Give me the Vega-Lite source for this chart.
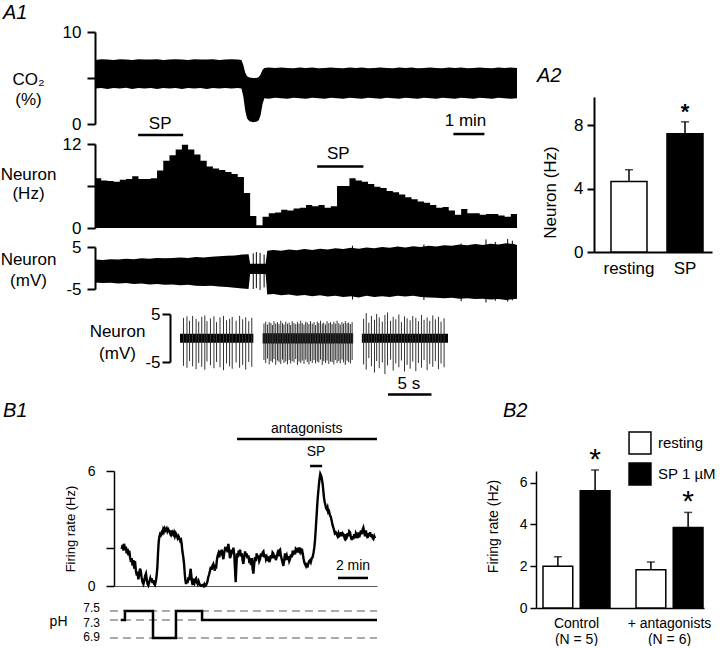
{
"$schema":"https://vega.github.io/schema/vega-lite/v6.json",
"background":"white",
"padding":{"left":0,"top":3,"right":0,"bottom":0},
"columns":2,
"bounds":"flush",
"align":"each",
"spacing":{"row":0,"column":19},
"resolve":{"scale":{"color":"independent"},"legend":{"color":"independent"}},
"config":{
 "font":"Liberation Sans",
 "view":{"stroke":null},
 "axis":{"grid":false,"domainColor":"black","tickColor":"black","labelColor":"black","titleColor":"black","titleFontWeight":"normal","labelFont":"Liberation Sans","titleFont":"Liberation Sans","labelOverlap":false,"labelFlush":false},
 "title":{"fontSize":20,"fontStyle":"italic","fontWeight":"normal","anchor":"start","frame":"group","color":"black","font":"Liberation Sans"},
 "text":{"color":"black","font":"Liberation Sans"}
},
"concat":[
{
 "width":422,"height":112,
 "title":{"text":"A1","dx":-92,"offset":0},
 "layer":[
  {"data":{"values":[
{"t":0.0,"v":3.85,"v2":6.95},{"t":0.2,"v":3.9,"v2":7.05},{"t":0.4,"v":3.8,"v2":7.0},{"t":0.6,"v":3.9,"v2":6.95},{"t":0.8,"v":3.85,"v2":7.05},{"t":1.0,"v":3.95,"v2":7.0},{"t":1.2,"v":3.8,"v2":6.95},{"t":1.4,"v":3.9,"v2":7.05},{"t":1.6,"v":3.85,"v2":7.0},{"t":1.8,"v":3.9,"v2":7.0},{"t":2.0,"v":3.8,"v2":7.05},{"t":2.2,"v":3.9,"v2":6.95},{"t":2.4,"v":3.85,"v2":7.0},{"t":2.6,"v":3.9,"v2":7.05},{"t":2.8,"v":3.8,"v2":7.0},{"t":3.0,"v":3.9,"v2":6.95},{"t":3.2,"v":3.85,"v2":7.05},{"t":3.4,"v":3.9,"v2":7.0},{"t":3.6,"v":3.8,"v2":7.0},{"t":3.8,"v":3.9,"v2":7.05},{"t":4.0,"v":3.85,"v2":6.95},{"t":4.2,"v":3.9,"v2":7.0},{"t":4.4,"v":3.85,"v2":7.05},{"t":4.6,"v":3.9,"v2":7.0},{"t":4.72,"v":3.85,"v2":6.95},
{"t":4.78,"v":3.0,"v2":6.4},{"t":4.84,"v":1.5,"v2":5.6},{"t":4.9,"v":0.6,"v2":5.2},{"t":4.98,"v":0.3,"v2":5.05},{"t":5.1,"v":0.2,"v2":5.0},{"t":5.2,"v":0.25,"v2":5.0},{"t":5.28,"v":0.4,"v2":5.1},{"t":5.34,"v":1.0,"v2":5.4},{"t":5.4,"v":2.2,"v2":5.9},{"t":5.46,"v":2.8,"v2":6.1},
{"t":5.6,"v":2.75,"v2":6.15},{"t":5.8,"v":2.85,"v2":6.1},{"t":6.0,"v":2.8,"v2":6.15},{"t":6.2,"v":2.75,"v2":6.1},{"t":6.4,"v":2.85,"v2":6.05},{"t":6.6,"v":2.8,"v2":6.15},{"t":6.8,"v":2.75,"v2":6.1},{"t":7.0,"v":2.85,"v2":6.15},{"t":7.2,"v":2.8,"v2":6.05},{"t":7.4,"v":2.75,"v2":6.1},{"t":7.6,"v":2.85,"v2":6.15},{"t":7.8,"v":2.8,"v2":6.1},{"t":8.0,"v":2.75,"v2":6.05},{"t":8.2,"v":2.85,"v2":6.15},{"t":8.4,"v":2.8,"v2":6.1},{"t":8.6,"v":2.75,"v2":6.15},{"t":8.8,"v":2.85,"v2":6.05},{"t":9.0,"v":2.8,"v2":6.1},{"t":9.2,"v":2.75,"v2":6.15},{"t":9.4,"v":2.85,"v2":6.1},{"t":9.6,"v":2.8,"v2":6.05},{"t":9.8,"v":2.75,"v2":6.15},{"t":10.0,"v":2.85,"v2":6.1},{"t":10.2,"v":2.8,"v2":6.15},{"t":10.4,"v":2.75,"v2":6.05},{"t":10.6,"v":2.85,"v2":6.1},{"t":10.8,"v":2.8,"v2":6.15},{"t":11.0,"v":2.75,"v2":6.1},{"t":11.2,"v":2.85,"v2":6.05},{"t":11.4,"v":2.8,"v2":6.15},{"t":11.6,"v":2.75,"v2":6.1},{"t":11.8,"v":2.85,"v2":6.15},{"t":12.0,"v":2.8,"v2":6.05},{"t":12.2,"v":2.75,"v2":6.1},{"t":12.4,"v":2.85,"v2":6.15},{"t":12.6,"v":2.8,"v2":6.1},{"t":12.8,"v":2.75,"v2":6.05},{"t":13.0,"v":2.85,"v2":6.15},{"t":13.2,"v":2.8,"v2":6.1},{"t":13.4,"v":2.75,"v2":6.15},{"t":13.6,"v":2.8,"v2":6.1}
  ]},
   "mark":{"type":"area","color":"black"},
   "encoding":{
    "x":{"field":"t","type":"quantitative","scale":{"domain":[0,13.6],"range":[0,422],"nice":false,"zero":false},"axis":null},
    "y":{"field":"v","type":"quantitative","scale":{"domain":[0,10],"range":[92,0],"nice":false,"zero":false},
     "axis":{"values":[0,5,10],"labelExpr":"datum.value == 5 ? '' : datum.label","labelFontSize":17,"labelPadding":6,"tickSize":8,"tickWidth":2,"domainWidth":2,
      "title":["CO₂","(%)"],"titleFontSize":17,"titleAngle":0,"titleAlign":"center","titleBaseline":"alphabetic","titleX":-67,"titleY":52,"titleLineHeight":20}},
    "y2":{"field":"v2"}}},
  {"data":{"values":[{"t":11.55,"t2":12.55,"v":-1.09}]},
   "mark":{"type":"rule","strokeWidth":2.5,"color":"black"},
   "encoding":{"x":{"field":"t","type":"quantitative","axis":null},"x2":{"field":"t2"},"y":{"field":"v","type":"quantitative"}}},
  {"data":{"values":[{"t":11.94,"v":0.33,"label":"1 min"}]},
   "mark":{"type":"text","fontSize":17,"baseline":"middle"},
   "encoding":{"x":{"field":"t","type":"quantitative","axis":null},"y":{"field":"v","type":"quantitative"},"text":{"field":"label"}}}
 ]
},
{
 "width":176,"height":112,
 "title":{"text":"A2","dx":1,"offset":8,"dy":62},
 "data":{"values":[
  {"cond":"resting","v":4.45,"hi":5.2,"star":""},
  {"cond":"SP","v":7.47,"hi":8.23,"star":"*"}
 ]},
 "layer":[
  {"mark":{"type":"bar","stroke":"black","strokeWidth":1.5},
   "encoding":{
    "x":{"field":"cond","type":"nominal","sort":null,"scale":{"range":[58,176],"paddingInner":0.357,"paddingOuter":0.232,"align":0.654},
     "axis":{"offset":108,"ticks":false,"labelAngle":0,"labelFontSize":17,"labelPadding":8,"title":null,"domainWidth":2}},
    "y":{"field":"v","type":"quantitative","scale":{"domain":[0,9.8],"range":[220,65],"nice":false},
     "axis":{"values":[0,2,4,6,8],"labelExpr":"datum.value % 4 == 0 ? datum.label : ''","offset":-58,"tickSize":7,"tickWidth":2,"domainWidth":2,"labelFontSize":17,"labelPadding":4,
      "title":"Neuron (Hz)","titleFontSize":17,"titleAngle":-90,"titleX":-44,"titleY":160,"titleAlign":"center","titleBaseline":"middle"}},
    "color":{"field":"cond","type":"nominal","sort":null,"scale":{"domain":["resting","SP"],"range":["white","black"]},"legend":null}}},
  {"mark":{"type":"rule","color":"black","strokeWidth":1.5},
   "encoding":{"x":{"field":"cond","type":"nominal","sort":null},"y":{"field":"v","type":"quantitative"},"y2":{"field":"hi"}}},
  {"mark":{"type":"tick","orient":"horizontal","color":"black","size":8,"thickness":1.5},
   "encoding":{"x":{"field":"cond","type":"nominal","sort":null},"y":{"field":"hi","type":"quantitative"}}},
  {"mark":{"type":"text","fontSize":22,"fontWeight":"bold","baseline":"alphabetic","dy":-3},
   "encoding":{"x":{"field":"cond","type":"nominal","sort":null},"y":{"field":"hi","type":"quantitative"},"text":{"field":"star"}}}
 ]
},
{
 "width":422,"height":103,
 "layer":[
  {"data":{"values":[
{"t":0.0,"v":7.1},{"t":0.2,"v":6.8},{"t":0.4,"v":6.7},{"t":0.6,"v":6.6},{"t":0.8,"v":6.9},{"t":1.0,"v":7.0},{"t":1.2,"v":7.4},{"t":1.4,"v":7.0},{"t":1.6,"v":7.0},{"t":1.8,"v":7.1},{"t":2.0,"v":8.2},{"t":2.2,"v":9.6},{"t":2.4,"v":10.4},{"t":2.6,"v":11.2},{"t":2.8,"v":11.9},{"t":3.0,"v":11.2},{"t":3.2,"v":10.5},{"t":3.4,"v":9.6},{"t":3.6,"v":8.8},{"t":3.8,"v":8.5},{"t":4.0,"v":8.3},{"t":4.2,"v":8.0},{"t":4.4,"v":7.7},{"t":4.6,"v":7.3},{"t":4.8,"v":5.0},{"t":5.0,"v":1.7},{"t":5.2,"v":0.4},{"t":5.4,"v":1.6},{"t":5.6,"v":2.1},{"t":5.8,"v":2.2},{"t":6.0,"v":2.6},{"t":6.2,"v":2.5},{"t":6.4,"v":2.8},{"t":6.6,"v":2.9},{"t":6.8,"v":3.3},{"t":7.0,"v":3.1},{"t":7.2,"v":3.3},{"t":7.4,"v":2.9},{"t":7.6,"v":3.1},{"t":7.8,"v":6.0},{"t":8.0,"v":6.0},{"t":8.2,"v":7.1},{"t":8.4,"v":6.8},{"t":8.6,"v":6.6},{"t":8.8,"v":6.3},{"t":9.0,"v":5.9},{"t":9.2,"v":5.7},{"t":9.4,"v":5.3},{"t":9.6,"v":5.1},{"t":9.8,"v":4.8},{"t":10.0,"v":4.4},{"t":10.2,"v":4.1},{"t":10.4,"v":3.8},{"t":10.6,"v":3.6},{"t":10.8,"v":3.3},{"t":11.0,"v":2.9},{"t":11.2,"v":3.0},{"t":11.4,"v":2.5},{"t":11.6,"v":1.9},{"t":11.8,"v":2.7},{"t":12.0,"v":2.1},{"t":12.2,"v":2.1},{"t":12.4,"v":1.9},{"t":12.6,"v":2.0},{"t":12.8,"v":2.0},{"t":13.0,"v":1.8},{"t":13.2,"v":1.6},{"t":13.4,"v":2.0},{"t":13.6,"v":2.0}
  ]},
   "mark":{"type":"area","color":"black","interpolate":"step-after"},
   "encoding":{
    "x":{"field":"t","type":"quantitative","scale":{"domain":[0,13.6],"range":[0,422],"nice":false,"zero":false},"axis":null},
    "y":{"field":"v","type":"quantitative","scale":{"domain":[0,12],"range":[84,0],"nice":false},
     "axis":{"values":[0,6,12],"labelExpr":"datum.value == 6 ? '' : datum.label","labelFontSize":17,"labelPadding":6,"tickSize":8,"tickWidth":2,"domainWidth":2,
      "title":["Neuron","(Hz)"],"titleFontSize":17,"titleAngle":0,"titleAlign":"center","titleBaseline":"alphabetic","titleX":-67,"titleY":35,"titleLineHeight":19}}}},
  {"data":{"values":[{"t":1.39,"t2":2.84,"v":13.3},{"t":7.16,"t2":8.65,"v":8.8}]},
   "mark":{"type":"rule","strokeWidth":2.5,"color":"black"},
   "encoding":{"x":{"field":"t","type":"quantitative","axis":null},"x2":{"field":"t2"},"y":{"field":"v","type":"quantitative"}}},
  {"data":{"values":[{"t":2.1,"v":14.9,"label":"SP"},{"t":7.84,"v":10.6,"label":"SP"}]},
   "mark":{"type":"text","fontSize":17,"baseline":"middle"},
   "encoding":{"x":{"field":"t","type":"quantitative","axis":null},"y":{"field":"v","type":"quantitative"},"text":{"field":"label"}}}
 ]
},
{"width":1,"height":1,"data":{"values":[]},"mark":"point","encoding":{}},
{
 "width":422,"height":67,
 "layer":[
  {"data":{"values":[
{"t":0.0,"v":-3.45,"v2":2.0},{"t":0.25,"v":-3.6,"v2":1.9},{"t":0.5,"v":-3.5,"v2":2.1},{"t":0.75,"v":-3.7,"v2":2.0},{"t":1.0,"v":-3.6,"v2":2.2},{"t":1.25,"v":-3.8,"v2":2.1},{"t":1.5,"v":-3.7,"v2":2.3},{"t":1.75,"v":-3.9,"v2":2.2},{"t":2.0,"v":-3.8,"v2":2.4},{"t":2.25,"v":-4.0,"v2":2.3},{"t":2.5,"v":-3.9,"v2":2.4},{"t":2.75,"v":-4.1,"v2":2.5},{"t":3.0,"v":-4.0,"v2":2.4},{"t":3.25,"v":-4.2,"v2":2.6},{"t":3.5,"v":-4.3,"v2":2.5},{"t":3.75,"v":-4.2,"v2":2.7},{"t":4.0,"v":-4.4,"v2":2.8},{"t":4.25,"v":-4.5,"v2":2.9},{"t":4.5,"v":-4.7,"v2":3.0},{"t":4.75,"v":-4.9,"v2":3.2},{"t":4.95,"v":-5.0,"v2":3.3},
{"t":5.0,"v":-1.4,"v2":1.0},{"t":5.5,"v":-1.4,"v2":1.0},
{"t":5.55,"v":-6.3,"v2":4.1},{"t":5.75,"v":-6.2,"v2":4.3},{"t":6.0,"v":-6.5,"v2":4.1},{"t":6.25,"v":-6.3,"v2":4.4},{"t":6.5,"v":-6.6,"v2":4.2},{"t":6.75,"v":-6.4,"v2":4.5},{"t":7.0,"v":-6.7,"v2":4.3},{"t":7.25,"v":-6.5,"v2":4.6},{"t":7.5,"v":-6.8,"v2":4.4},{"t":7.75,"v":-6.6,"v2":4.7},{"t":8.0,"v":-6.9,"v2":4.5},{"t":8.25,"v":-6.7,"v2":4.8},{"t":8.5,"v":-7.0,"v2":4.6},{"t":8.75,"v":-6.6,"v2":4.9},{"t":9.0,"v":-6.9,"v2":4.7},{"t":9.25,"v":-6.7,"v2":5.0},{"t":9.5,"v":-6.9,"v2":4.8},{"t":9.75,"v":-6.6,"v2":5.1},{"t":10.0,"v":-6.8,"v2":4.9},{"t":10.25,"v":-6.6,"v2":5.2},{"t":10.5,"v":-6.9,"v2":5.0},{"t":10.75,"v":-7.0,"v2":5.3},{"t":11.0,"v":-7.1,"v2":5.1},{"t":11.25,"v":-7.2,"v2":5.4},{"t":11.5,"v":-7.1,"v2":5.3},{"t":11.75,"v":-7.3,"v2":5.6},{"t":12.0,"v":-7.2,"v2":5.4},{"t":12.25,"v":-7.4,"v2":5.7},{"t":12.5,"v":-7.3,"v2":5.5},{"t":12.75,"v":-7.5,"v2":5.8},{"t":13.0,"v":-7.4,"v2":5.6},{"t":13.25,"v":-7.6,"v2":5.9},{"t":13.5,"v":-7.4,"v2":5.7},{"t":13.6,"v":-7.3,"v2":5.5}
  ]},
   "mark":{"type":"area","color":"black"},
   "encoding":{
    "x":{"field":"t","type":"quantitative","scale":{"domain":[0,13.6],"range":[0,422],"nice":false,"zero":false},"axis":null},
    "y":{"field":"v","type":"quantitative","scale":{"domain":[-5,5],"range":[42,0],"nice":false,"zero":false},
     "axis":{"values":[-5,0,5],"labelExpr":"datum.value == 0 ? '' : (datum.value < 0 ? '-5' : '5')","labelFontSize":17,"labelPadding":6,"tickSize":8,"tickWidth":2,"domainWidth":2,
      "title":["Neuron","(mV)"],"titleFontSize":17,"titleAngle":0,"titleAlign":"center","titleBaseline":"alphabetic","titleX":-67,"titleY":17,"titleLineHeight":21}},
    "y2":{"field":"v2"}}},
  {"data":{"values":[{"t":5.1,"v":-5.0,"v2":3.5},{"t":5.2,"v":-4.8,"v2":3.8},{"t":5.32,"v":-5.2,"v2":3.6},{"t":5.45,"v":-4.6,"v2":3.2},{"t":8.3,"v":-7.5,"v2":5.3},{"t":10.6,"v":-7.6,"v2":5.6},{"t":11.8,"v":-7.9,"v2":5.8},{"t":12.6,"v":-8.2,"v2":6.8},{"t":12.9,"v":-7.8,"v2":6.2},{"t":13.3,"v":-8.0,"v2":6.9},{"t":13.45,"v":-7.7,"v2":6.5}]},
   "mark":{"type":"rule","color":"black","strokeWidth":1},
   "encoding":{"x":{"field":"t","type":"quantitative","axis":null},"y":{"field":"v","type":"quantitative"},"y2":{"field":"v2"}}}
 ]
},
{"width":1,"height":1,"data":{"values":[]},"mark":"point","encoding":{}},
{
 "width":353,"height":157,
 "layer":[
  {"data":{"values":[{"t":0,"t2":8.43,"v":-1.0,"v2":0.87},{"t":9.5,"t2":19.9,"v":-1.15,"v2":1.0},{"t":20.9,"t2":30.8,"v":-1.0,"v2":0.9}]},
   "mark":{"type":"rect","color":"black"},
   "encoding":{
    "x":{"field":"t","type":"quantitative","scale":{"domain":[0,30.8],"range":[85,353],"nice":false,"zero":false},"axis":null},
    "x2":{"field":"t2"},
    "y":{"field":"v","type":"quantitative","scale":{"domain":[-5,5],"range":[48,0],"nice":false,"zero":false},
     "axis":{"values":[-5,5],"labelExpr":"datum.value < 0 ? '-5' : '5'","offset":-75,"labelFontSize":17,"labelPadding":2,"tickSize":8,"tickWidth":2,"domainWidth":2,
      "title":["Neuron","(mV)"],"titleFontSize":17,"titleAngle":0,"titleAlign":"center","titleBaseline":"alphabetic","titleX":-53,"titleY":22,"titleLineHeight":22}},
    "y2":{"field":"v2"}}},
  {"data":{"values":[
{"t":0.4,"v":-5.8,"v2":4.2},{"t":0.8,"v":-6.2,"v2":4.5},{"t":1.1,"v":-4.8,"v2":3.6},{"t":1.45,"v":-5.9,"v2":4.6},{"t":1.85,"v":-6.5,"v2":4.0},{"t":2.15,"v":-5.2,"v2":3.4},{"t":2.5,"v":-6.0,"v2":4.4},{"t":2.85,"v":-6.6,"v2":4.7},{"t":3.1,"v":-4.9,"v2":3.5},{"t":3.5,"v":-5.7,"v2":4.1},{"t":3.9,"v":-6.3,"v2":4.5},{"t":4.2,"v":-5.0,"v2":3.3},{"t":4.6,"v":-6.1,"v2":4.3},{"t":5.0,"v":-6.7,"v2":4.6},{"t":5.35,"v":-5.3,"v2":3.7},{"t":5.7,"v":-5.9,"v2":4.0},{"t":6.0,"v":-6.4,"v2":4.4},{"t":6.45,"v":-5.1,"v2":3.6},{"t":6.85,"v":-6.2,"v2":4.6},{"t":7.2,"v":-5.6,"v2":3.9},{"t":7.55,"v":-6.6,"v2":4.3},{"t":7.9,"v":-5.0,"v2":3.5},{"t":8.25,"v":-6.0,"v2":4.2},
{"t":9.65,"v":-4.6,"v2":3.0},{"t":9.85,"v":-5.2,"v2":3.4},{"t":10.05,"v":-4.3,"v2":2.8},{"t":10.25,"v":-5.5,"v2":3.3},{"t":10.45,"v":-4.8,"v2":3.1},{"t":10.62,"v":-5.1,"v2":2.7},{"t":10.8,"v":-4.4,"v2":3.5},{"t":11.0,"v":-5.6,"v2":3.0},{"t":11.2,"v":-4.7,"v2":3.3},{"t":11.38,"v":-5.0,"v2":2.9},{"t":11.58,"v":-5.4,"v2":3.6},{"t":11.78,"v":-4.5,"v2":3.1},{"t":11.95,"v":-5.2,"v2":2.8},{"t":12.15,"v":-4.9,"v2":3.4},{"t":12.35,"v":-5.5,"v2":3.0},{"t":12.55,"v":-4.6,"v2":3.2},{"t":12.72,"v":-5.3,"v2":2.7},{"t":12.9,"v":-4.8,"v2":3.5},{"t":13.1,"v":-5.1,"v2":3.1},{"t":13.3,"v":-4.4,"v2":2.9},{"t":13.5,"v":-5.6,"v2":3.3},{"t":13.68,"v":-4.9,"v2":3.0},{"t":13.88,"v":-5.2,"v2":3.6},{"t":14.05,"v":-4.7,"v2":3.1},{"t":14.25,"v":-5.4,"v2":2.8},{"t":14.45,"v":-4.5,"v2":3.4},{"t":14.62,"v":-5.0,"v2":3.2},{"t":14.82,"v":-5.5,"v2":2.9},{"t":15.0,"v":-4.8,"v2":3.5},{"t":15.2,"v":-5.2,"v2":3.0},{"t":15.4,"v":-4.6,"v2":3.3},{"t":15.58,"v":-5.3,"v2":2.7},{"t":15.78,"v":-4.9,"v2":3.4},{"t":15.95,"v":-5.1,"v2":3.1},{"t":16.15,"v":-4.5,"v2":3.6},{"t":16.35,"v":-5.6,"v2":3.0},{"t":16.52,"v":-4.8,"v2":3.2},{"t":16.72,"v":-5.2,"v2":2.8},{"t":16.9,"v":-4.7,"v2":3.5},{"t":17.1,"v":-5.4,"v2":3.1},{"t":17.3,"v":-4.9,"v2":3.3},{"t":17.48,"v":-5.0,"v2":2.9},{"t":17.68,"v":-5.5,"v2":3.4},{"t":17.85,"v":-4.6,"v2":3.0},{"t":18.05,"v":-5.2,"v2":3.6},{"t":18.25,"v":-4.8,"v2":3.1},{"t":18.42,"v":-5.3,"v2":2.8},{"t":18.62,"v":-4.5,"v2":3.3},{"t":18.8,"v":-5.1,"v2":3.0},{"t":19.0,"v":-5.6,"v2":3.5},{"t":19.2,"v":-4.7,"v2":3.1},{"t":19.38,"v":-5.0,"v2":3.2},{"t":19.58,"v":-5.3,"v2":2.9},{"t":19.78,"v":-4.6,"v2":3.3},
{"t":21.1,"v":-5.5,"v2":4.0},{"t":21.4,"v":-6.6,"v2":5.2},{"t":21.7,"v":-4.2,"v2":3.2},{"t":22.0,"v":-5.9,"v2":4.6},{"t":22.35,"v":-7.2,"v2":3.8},{"t":22.6,"v":-4.8,"v2":5.0},{"t":22.9,"v":-6.3,"v2":4.3},{"t":23.25,"v":-5.1,"v2":3.4},{"t":23.55,"v":-7.5,"v2":4.8},{"t":23.85,"v":-5.7,"v2":5.3},{"t":24.2,"v":-4.5,"v2":3.6},{"t":24.5,"v":-6.8,"v2":4.4},{"t":24.8,"v":-5.3,"v2":3.9},{"t":25.15,"v":-6.1,"v2":4.9},{"t":25.45,"v":-4.7,"v2":3.3},{"t":25.8,"v":-7.0,"v2":4.5},{"t":26.1,"v":-5.6,"v2":4.1},{"t":26.45,"v":-6.4,"v2":3.7},{"t":26.75,"v":-4.9,"v2":4.6},{"t":27.1,"v":-6.9,"v2":4.2},{"t":27.4,"v":-5.2,"v2":3.5},{"t":27.75,"v":-6.2,"v2":4.8},{"t":28.05,"v":-4.6,"v2":3.8},{"t":28.4,"v":-6.7,"v2":4.3},{"t":28.7,"v":-5.4,"v2":3.6},{"t":29.05,"v":-6.0,"v2":4.7},{"t":29.35,"v":-4.8,"v2":3.9},{"t":29.7,"v":-6.5,"v2":4.4},{"t":30.0,"v":-5.3,"v2":3.4},{"t":30.35,"v":-6.1,"v2":4.1}
  ]},
   "mark":{"type":"rule","color":"#333","strokeWidth":1},
   "encoding":{"x":{"field":"t","type":"quantitative","axis":null},"y":{"field":"v","type":"quantitative"},"y2":{"field":"v2"}}},
  {"data":{"values":[{"t":23.9,"t2":28.9,"v":-11.76}]},
   "mark":{"type":"rule","color":"black","strokeWidth":2.5},
   "encoding":{"x":{"field":"t","type":"quantitative","axis":null},"x2":{"field":"t2"},"y":{"field":"v","type":"quantitative"}}},
  {"data":{"values":[{"t":26.3,"v":-9.5,"label":"5 s"}]},
   "mark":{"type":"text","fontSize":17,"baseline":"middle"},
   "encoding":{"x":{"field":"t","type":"quantitative","axis":null},"y":{"field":"v","type":"quantitative"},"text":{"field":"label"}}}
 ]
},
{"width":1,"height":1,"data":{"values":[]},"mark":"point","encoding":{}},
{
 "width":282,"height":140,
 "title":{"text":"B1","dx":-92,"offset":1},
 "layer":[
  {"data":{"values":[
{"t":0.51,"v":1.93},{"t":0.58,"v":2.15},{"t":0.63,"v":1.85},{"t":0.67,"v":2.2},{"t":0.74,"v":1.9},{"t":0.79,"v":2.05},{"t":0.84,"v":1.7},{"t":0.9,"v":1.95},{"t":0.96,"v":1.6},{"t":1.02,"v":1.85},{"t":1.07,"v":1.5},{"t":1.13,"v":1.25},{"t":1.18,"v":1.45},{"t":1.24,"v":1.06},{"t":1.3,"v":1.35},{"t":1.35,"v":0.9},{"t":1.4,"v":1.3},{"t":1.46,"v":0.8},{"t":1.52,"v":0.55},{"t":1.57,"v":0.75},{"t":1.62,"v":0.35},{"t":1.68,"v":0.6},{"t":1.73,"v":0.9},{"t":1.78,"v":0.8},{"t":1.84,"v":0.45},{"t":1.9,"v":0.2},{"t":1.96,"v":0.1},{"t":2.02,"v":0.3},{"t":2.08,"v":0.55},{"t":2.13,"v":0.65},{"t":2.19,"v":0.3},{"t":2.24,"v":0.1},{"t":2.29,"v":0.03},{"t":2.35,"v":0.2},{"t":2.42,"v":0.4},{"t":2.47,"v":0.25},{"t":2.51,"v":0.4},{"t":2.57,"v":0.15},{"t":2.63,"v":0.3},{"t":2.68,"v":0.1},{"t":2.73,"v":0.05},{"t":2.8,"v":0.3},{"t":2.85,"v":0.6},{"t":2.89,"v":1.0},{"t":2.94,"v":1.8},{"t":2.98,"v":2.3},{"t":3.02,"v":2.55},{"t":3.07,"v":2.7},{"t":3.12,"v":2.65},{"t":3.18,"v":2.8},{"t":3.23,"v":2.75},{"t":3.28,"v":2.95},{"t":3.33,"v":2.85},{"t":3.38,"v":3.0},{"t":3.44,"v":2.9},{"t":3.51,"v":3.0},{"t":3.56,"v":2.85},{"t":3.62,"v":2.95},{"t":3.69,"v":2.85},{"t":3.74,"v":2.75},{"t":3.79,"v":2.9},{"t":3.84,"v":2.7},{"t":3.9,"v":2.8},{"t":3.95,"v":2.7},{"t":4.0,"v":2.8},{"t":4.06,"v":2.6},{"t":4.12,"v":2.75},{"t":4.18,"v":2.65},{"t":4.24,"v":2.5},{"t":4.3,"v":2.6},{"t":4.36,"v":2.5},{"t":4.42,"v":2.35},{"t":4.47,"v":2.4},{"t":4.51,"v":2.2},{"t":4.56,"v":1.8},{"t":4.62,"v":1.5},{"t":4.67,"v":1.15},{"t":4.72,"v":0.6},{"t":4.76,"v":0.3},{"t":4.8,"v":0.1},{"t":4.85,"v":0.3},{"t":4.9,"v":0.15},{"t":4.96,"v":0.45},{"t":5.01,"v":0.3},{"t":5.06,"v":0.6},{"t":5.11,"v":0.9},{"t":5.16,"v":0.5},{"t":5.2,"v":0.2},{"t":5.24,"v":0.05},{"t":5.3,"v":0.25},{"t":5.36,"v":0.15},{"t":5.42,"v":0.35},{"t":5.47,"v":0.4},{"t":5.52,"v":0.2},{"t":5.58,"v":0.1},{"t":5.64,"v":0.25},{"t":5.7,"v":0.1},{"t":5.73,"v":0.05},{"t":5.8,"v":0.0},{"t":5.88,"v":0.05},{"t":5.95,"v":0.0},{"t":6.02,"v":0.1},{"t":6.07,"v":0.0},{"t":6.14,"v":0.05},{"t":6.22,"v":0.2},{"t":6.28,"v":0.45},{"t":6.34,"v":0.6},{"t":6.4,"v":0.8},{"t":6.46,"v":1.0},{"t":6.51,"v":0.85},{"t":6.56,"v":1.05},{"t":6.62,"v":1.15},{"t":6.67,"v":1.0},{"t":6.72,"v":0.8},{"t":6.76,"v":1.1},{"t":6.8,"v":0.9},{"t":6.85,"v":1.3},{"t":6.9,"v":1.55},{"t":6.96,"v":1.7},{"t":7.02,"v":1.5},{"t":7.07,"v":1.85},{"t":7.12,"v":1.6},{"t":7.18,"v":1.9},{"t":7.23,"v":1.65},{"t":7.29,"v":1.4},{"t":7.34,"v":1.7},{"t":7.4,"v":1.95},{"t":7.47,"v":1.9},{"t":7.52,"v":2.05},{"t":7.57,"v":1.75},{"t":7.62,"v":2.2},{"t":7.67,"v":1.9},{"t":7.73,"v":1.45},{"t":7.8,"v":1.6},{"t":7.85,"v":1.9},{"t":7.91,"v":1.7},{"t":7.96,"v":2.0},{"t":8.02,"v":1.6},{"t":8.07,"v":0.8},{"t":8.11,"v":0.2},{"t":8.15,"v":0.9},{"t":8.2,"v":1.7},{"t":8.26,"v":1.5},{"t":8.31,"v":1.85},{"t":8.36,"v":1.6},{"t":8.4,"v":1.9},{"t":8.46,"v":1.55},{"t":8.52,"v":1.7},{"t":8.57,"v":1.35},{"t":8.62,"v":1.15},{"t":8.68,"v":1.5},{"t":8.74,"v":1.8},{"t":8.79,"v":1.55},{"t":8.84,"v":1.7},{"t":8.9,"v":1.45},{"t":8.96,"v":1.6},{"t":9.01,"v":1.3},{"t":9.07,"v":1.35},{"t":9.13,"v":1.1},{"t":9.19,"v":1.45},{"t":9.24,"v":0.9},{"t":9.29,"v":0.65},{"t":9.34,"v":1.1},{"t":9.4,"v":1.5},{"t":9.46,"v":1.3},{"t":9.51,"v":1.7},{"t":9.57,"v":1.45},{"t":9.62,"v":1.6},{"t":9.68,"v":1.3},{"t":9.73,"v":1.4},{"t":9.8,"v":1.7},{"t":9.86,"v":1.55},{"t":9.91,"v":1.75},{"t":9.96,"v":1.8},{"t":10.02,"v":1.5},{"t":10.08,"v":1.65},{"t":10.13,"v":1.4},{"t":10.18,"v":1.5},{"t":10.24,"v":1.3},{"t":10.3,"v":1.55},{"t":10.35,"v":1.25},{"t":10.4,"v":1.35},{"t":10.46,"v":1.6},{"t":10.51,"v":1.45},{"t":10.57,"v":1.75},{"t":10.62,"v":1.7},{"t":10.68,"v":1.45},{"t":10.73,"v":1.6},{"t":10.79,"v":1.35},{"t":10.84,"v":1.5},{"t":10.9,"v":1.7},{"t":10.96,"v":1.55},{"t":11.01,"v":1.85},{"t":11.07,"v":1.9},{"t":11.12,"v":1.6},{"t":11.18,"v":1.4},{"t":11.24,"v":1.2},{"t":11.29,"v":1.05},{"t":11.35,"v":1.4},{"t":11.4,"v":1.7},{"t":11.46,"v":1.5},{"t":11.51,"v":1.6},{"t":11.57,"v":1.35},{"t":11.62,"v":1.55},{"t":11.68,"v":1.3},{"t":11.73,"v":1.4},{"t":11.79,"v":1.65},{"t":11.85,"v":1.5},{"t":11.9,"v":1.75},{"t":11.96,"v":1.7},{"t":12.02,"v":1.85},{"t":12.07,"v":1.65},{"t":12.12,"v":1.95},{"t":12.18,"v":1.9},{"t":12.24,"v":1.75},{"t":12.29,"v":2.0},{"t":12.35,"v":1.85},{"t":12.4,"v":2.0},{"t":12.46,"v":1.8},{"t":12.52,"v":1.95},{"t":12.58,"v":1.7},{"t":12.63,"v":1.45},{"t":12.68,"v":1.25},{"t":12.73,"v":1.15},{"t":12.79,"v":1.05},{"t":12.84,"v":1.2},{"t":12.89,"v":0.97},{"t":12.95,"v":1.15},{"t":13.01,"v":1.3},{"t":13.07,"v":1.35},{"t":13.12,"v":1.25},{"t":13.18,"v":1.45},{"t":13.24,"v":1.5},{"t":13.3,"v":1.75},{"t":13.35,"v":2.0},{"t":13.4,"v":2.4},{"t":13.45,"v":3.0},{"t":13.51,"v":3.75},{"t":13.57,"v":4.5},{"t":13.64,"v":5.14},{"t":13.7,"v":5.6},{"t":13.75,"v":5.85},{"t":13.78,"v":5.8},{"t":13.83,"v":5.7},{"t":13.88,"v":5.45},{"t":13.91,"v":5.3},{"t":13.96,"v":4.9},{"t":14.0,"v":4.6},{"t":14.04,"v":4.4},{"t":14.1,"v":4.2},{"t":14.14,"v":4.05},{"t":14.18,"v":4.0},{"t":14.23,"v":4.1},{"t":14.28,"v":3.85},{"t":14.33,"v":3.9},{"t":14.39,"v":3.7},{"t":14.45,"v":3.6},{"t":14.51,"v":3.4},{"t":14.56,"v":3.2},{"t":14.62,"v":3.05},{"t":14.67,"v":2.9},{"t":14.72,"v":2.75},{"t":14.78,"v":2.8},{"t":14.84,"v":2.7},{"t":14.9,"v":2.6},{"t":14.96,"v":2.75},{"t":15.01,"v":2.6},{"t":15.07,"v":2.65},{"t":15.13,"v":2.8},{"t":15.18,"v":2.6},{"t":15.24,"v":2.75},{"t":15.29,"v":2.7},{"t":15.35,"v":2.55},{"t":15.4,"v":2.7},{"t":15.46,"v":2.45},{"t":15.51,"v":2.5},{"t":15.57,"v":2.75},{"t":15.62,"v":2.6},{"t":15.68,"v":2.85},{"t":15.73,"v":2.8},{"t":15.79,"v":2.55},{"t":15.85,"v":2.4},{"t":15.9,"v":2.6},{"t":15.96,"v":2.45},{"t":16.01,"v":2.7},{"t":16.07,"v":2.5},{"t":16.12,"v":2.75},{"t":16.18,"v":2.65},{"t":16.24,"v":2.5},{"t":16.29,"v":2.8},{"t":16.35,"v":2.55},{"t":16.4,"v":2.7},{"t":16.46,"v":2.9},{"t":16.51,"v":2.7},{"t":16.57,"v":2.95},{"t":16.62,"v":3.05},{"t":16.68,"v":2.8},{"t":16.73,"v":2.6},{"t":16.79,"v":2.9},{"t":16.84,"v":2.65},{"t":16.9,"v":2.5},{"t":16.96,"v":2.75},{"t":17.01,"v":2.6},{"t":17.07,"v":2.8},{"t":17.13,"v":2.55},{"t":17.18,"v":2.7},{"t":17.24,"v":2.5},{"t":17.29,"v":2.45},{"t":17.35,"v":2.6},{"t":17.4,"v":2.5}
  ]},
   "mark":{"type":"line","color":"black","strokeWidth":2.4},
   "encoding":{
    "x":{"field":"t","type":"quantitative","scale":{"domain":[0,17.53],"range":[19,282],"nice":false,"zero":false},
     "axis":{"offset":-25,"ticks":false,"labels":false,"title":null,"domainColor":"#555","domainWidth":1}},
    "y":{"field":"v","type":"quantitative","scale":{"domain":[0,6],"range":[115,0],"nice":false},
     "axis":{"values":[0,2,4,6],"labelExpr":"datum.value == 0 || datum.value == 6 ? datum.label : ''","offset":-19,"tickSize":8,"tickWidth":1.5,"domainWidth":1.5,"labelPadding":11,"labelFontSize":14,
      "title":"Firing rate (Hz)","titleFontSize":13,"titleAngle":-90,"titleX":-44,"titleY":57.5,"titleAlign":"center","titleBaseline":"middle"}}}},
  {"data":{"values":[{"t":8.2,"t2":17.53,"v":7.67},{"t":13.07,"t2":13.87,"v":6.26},{"t":14.93,"t2":16.93,"v":0.42}]},
   "mark":{"type":"rule","strokeWidth":2.5,"color":"black"},
   "encoding":{"x":{"field":"t","type":"quantitative"},"x2":{"field":"t2"},"y":{"field":"v","type":"quantitative"}}},
  {"data":{"values":[{"t":12.85,"v":8.2,"label":"antagonists"},{"t":13.47,"v":7.0,"label":"SP"},{"t":15.93,"v":1.04,"label":"2 min"}]},
   "mark":{"type":"text","fontSize":14,"baseline":"middle"},
   "encoding":{"x":{"field":"t","type":"quantitative"},"y":{"field":"v","type":"quantitative"},"text":{"field":"label"}}}
 ]
},
{
 "width":168,"height":137,
 "title":{"text":"B2","dx":-33,"offset":10},
 "data":{"values":[
  {"group":"Control|(N = 5)","cond":"resting","v":2.0,"hi":2.45,"star":""},
  {"group":"Control|(N = 5)","cond":"SP 1 µM","v":5.6,"hi":6.6,"star":"*"},
  {"group":"+ antagonists|(N = 6)","cond":"resting","v":1.83,"hi":2.2,"star":""},
  {"group":"+ antagonists|(N = 6)","cond":"SP 1 µM","v":3.85,"hi":4.57,"star":"*"}
 ]},
 "layer":[
  {"mark":{"type":"bar","stroke":"black","strokeWidth":1.5},
   "encoding":{
    "x":{"field":"group","type":"nominal","sort":null,"scale":{"paddingInner":0.28,"paddingOuter":0.043,"align":0.875},
     "axis":{"labelExpr":"split(datum.label, '|')","labelAngle":0,"ticks":false,"labelPadding":8,"labelFontSize":14,"labelLineHeight":16,"title":null,"domainWidth":1.5}},
    "xOffset":{"field":"cond","type":"nominal","sort":null,"scale":{"paddingInner":0.2}},
    "y":{"field":"v","type":"quantitative","scale":{"domain":[0,6.55],"nice":false},
     "axis":{"values":[0,1,2,3,4,5,6],"labelExpr":"datum.value % 2 == 0 ? datum.label : ''","tickSize":6,"tickWidth":1.5,"domainWidth":1.5,"labelPadding":3,"labelFontSize":14,
      "title":"Firing rate (Hz)","titleFontSize":14,"titleAngle":-90,"titleX":-43,"titleY":55,"titleAlign":"center","titleBaseline":"middle"}},
    "color":{"field":"cond","type":"nominal","sort":null,"scale":{"domain":["resting","SP 1 µM"],"range":["white","black"]},
     "legend":{"orient":"none","legendX":92,"legendY":-40,"title":null,"symbolType":"square","symbolSize":480,"symbolStrokeColor":"black","symbolStrokeWidth":1.5,"labelFontSize":15,"labelFont":"Liberation Sans","labelColor":"black","rowPadding":3,"labelOffset":6,"padding":0}}}},
  {"mark":{"type":"rule","color":"black","strokeWidth":1.5},
   "encoding":{"x":{"field":"group","type":"nominal","sort":null},"xOffset":{"field":"cond","type":"nominal","sort":null},"y":{"field":"v","type":"quantitative"},"y2":{"field":"hi"}}},
  {"mark":{"type":"tick","orient":"horizontal","color":"black","size":8,"thickness":1.5},
   "encoding":{"x":{"field":"group","type":"nominal","sort":null},"xOffset":{"field":"cond","type":"nominal","sort":null},"y":{"field":"hi","type":"quantitative"}}},
  {"mark":{"type":"text","fontSize":30,"baseline":"alphabetic","dy":-1},
   "encoding":{"x":{"field":"group","type":"nominal","sort":null},"xOffset":{"field":"cond","type":"nominal","sort":null},"y":{"field":"hi","type":"quantitative"},"text":{"field":"star"}}}
 ]
},
{
 "width":282,"height":27,
 "layer":[
  {"data":{"values":[{"t":-0.27,"t2":17.53,"v":7.5},{"t":-0.27,"t2":17.53,"v":7.3},{"t":-0.27,"t2":17.53,"v":6.9}]},
   "mark":{"type":"rule","color":"#555","strokeWidth":1,"strokeDash":[8,5]},
   "encoding":{
    "x":{"field":"t","type":"quantitative","scale":{"domain":[0,17.53],"range":[19,282],"nice":false,"zero":false},"axis":null},
    "x2":{"field":"t2"},
    "y":{"field":"v","type":"quantitative","scale":{"domain":[6.9,7.5],"range":[27,0],"nice":false,"zero":false},
     "axis":{"values":[7.3],"labels":false,"domain":false,"ticks":false,"offset":-9,
      "title":"pH","titleFontSize":14,"titleAngle":0,"titleAlign":"right","titleBaseline":"middle","titleX":-37,"titleY":10}}}},
  {"data":{"values":[{"t":0.45,"v":7.3},{"t":0.73,"v":7.5},{"t":2.6,"v":6.9},{"t":4.13,"v":7.5},{"t":5.87,"v":7.3},{"t":17.53,"v":7.3}]},
   "mark":{"type":"line","color":"black","strokeWidth":2.5,"interpolate":"step-after"},
   "encoding":{"x":{"field":"t","type":"quantitative","axis":null},"y":{"field":"v","type":"quantitative"}}},
  {"data":{"values":[{"t":-0.93,"v":7.5,"label":"7.5"}]},
   "mark":{"type":"text","fontSize":12,"align":"right","baseline":"middle","dy":-3},
   "encoding":{"x":{"field":"t","type":"quantitative","axis":null},"y":{"field":"v","type":"quantitative"},"text":{"field":"label"}}},
  {"data":{"values":[{"t":-0.93,"v":6.9,"label":"6.9"}]},
   "mark":{"type":"text","fontSize":12,"align":"right","baseline":"middle","dy":-1},
   "encoding":{"x":{"field":"t","type":"quantitative","axis":null},"y":{"field":"v","type":"quantitative"},"text":{"field":"label"}}},
  {"data":{"values":[{"t":-0.93,"v":7.3,"label":"7.3"}]},
   "mark":{"type":"text","fontSize":12,"align":"right","baseline":"middle","dy":3},
   "encoding":{"x":{"field":"t","type":"quantitative","axis":null},"y":{"field":"v","type":"quantitative"},"text":{"field":"label"}}}
 ]
},
{"width":1,"height":1,"data":{"values":[]},"mark":"point","encoding":{}}
]
}
